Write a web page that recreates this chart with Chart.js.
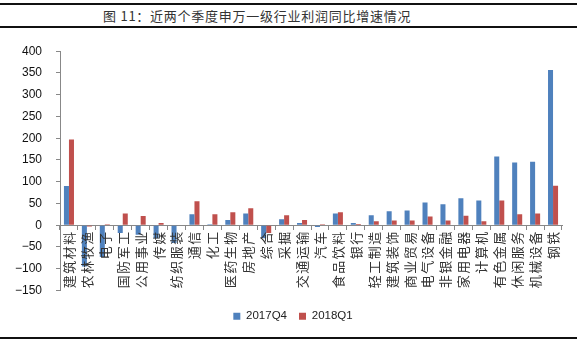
<!DOCTYPE html>
<html>
<head>
<meta charset="utf-8">
<script src="https://cdn.jsdelivr.net/npm/chart.js@4/dist/chart.umd.min.js"></script>
<style>
  html, body { margin: 0; padding: 0; background: #fff; }
  #page { position: relative; width: 577px; height: 343px; overflow: hidden; }
  #title {
    position: absolute; left: 0; top: 3px; width: 577px; height: 21px;
    border-top: 2px solid #111; border-bottom: 2px solid #111;
    font: 13px "Noto Sans CJK SC", sans-serif; letter-spacing: 0.75px;
    color: #333; line-height: 21px; white-space: nowrap;
  }
  #title span { position: absolute; left: 103px; }
  #wrap { position: absolute; left: 0; top: 30px; width: 577px; height: 305px; }
  #rule { position: absolute; left: 0; top: 337px; width: 577px; height: 0; border-top: 2px solid #111; }
</style>
</head>
<body>
<div id="page">
  <div id="title"><span>图 11：近两个季度申万一级行业利润同比增速情况</span></div>
  <div id="wrap"><canvas id="profitChart" width="577" height="305"></canvas></div>
  <div id="rule"></div>
</div>
<script>
const ctx = document.getElementById('profitChart').getContext('2d');

// 申万一级行业
const industries = ['建筑材料', '农林牧渔', '电子', '国防军工', '公用事业', '传媒', '纺织服装',
  '通信', '化工', '医药生物', '房地产', '综合', '采掘', '交通运输', '汽车', '食品饮料', '银行',
  '轻工制造', '建筑装饰', '商业贸易', '电气设备', '非银金融', '家用电器', '计算机', '有色金属',
  '休闲服务', '机械设备', '钢铁'];

// 利润同比增速 (%)
const growth2017Q4 = [90, -95, -73, -18, -22, -30, -41, 25, 2, 12, 27, -30, 14, 5, -4, 27, 5,
  23, 32, 34, 52, 48, 62, 57, 158, 144, 146, 357];
const growth2018Q1 = [197, -3, 2, 27, 21, 5, 0, 55, 25, 30, 39, -18, 23, 12, 2, 30, 3,
  9, 11, 11, 20, 11, 22, 9, 57, 25, 27, 91];

const yTicks = [400, 350, 300, 250, 200, 150, 100, 50, 0, -50, -100, -150];

const seriesNames = ['2017Q4', '2018Q1'];
const seriesColors = ['#4F81BD', '#C0504D'];

// category labels are drawn after the bars (ticks.z = 1); space their characters out
const labelSpacing = {
  id: 'labelSpacing',
  afterDatasetsDraw(chart) { chart.ctx.letterSpacing = '1.5px'; },
  afterDraw(chart) { chart.ctx.letterSpacing = '0px'; },
  // nudge the legend a little to the right
  afterLayout(chart) { chart.legend.left += 12; chart.legend.right += 12; }
};

new Chart(ctx, {
  type: 'bar',
  data: {
    labels: industries,
    datasets: [
      { label: seriesNames[0], data: growth2017Q4, backgroundColor: seriesColors[0] },
      { label: seriesNames[1], data: growth2018Q1, backgroundColor: seriesColors[1] }
    ]
  },
  plugins: [labelSpacing],
  options: {
    responsive: false,
    animation: false,
    layout: { padding: { left: 0, right: 15, top: 17, bottom: 3 } },
    datasets: { bar: { categoryPercentage: 0.56, barPercentage: 1.0 } },
    plugins: {
      title: { display: false },
      tooltip: { enabled: false },
      legend: {
        position: 'bottom',
        labels: {
          boxWidth: 7, boxHeight: 7, padding: 12, color: '#222',
          font: { family: '"Liberation Sans", Arial, sans-serif', size: 11.5 }
        }
      }
    },
    scales: {
      x: {
        position: { y: 0 },
        grid: { offset: true, drawOnChartArea: false, drawTicks: true, tickLength: 4, color: '#888' },
        border: { display: true, color: '#888', width: 1 },
        ticks: {
          autoSkip: false, minRotation: 90, maxRotation: 90, padding: 1, z: 1,
          color: '#333',
          font: { family: '"Noto Sans CJK SC", sans-serif', size: 13 }
        }
      },
      xBottom: {
        type: 'category', position: 'bottom', labels: industries,
        grid: { display: false }, border: { display: false },
        ticks: { display: false },
        afterFit: (scale) => { scale.height = 8; }
      },
      y: {
        min: -150, max: 400,
        afterFit: (scale) => { scale.width = 60; },
        afterBuildTicks: (scale) => { scale.ticks = yTicks.map(v => ({ value: v })); },
        grid: { drawOnChartArea: false, drawTicks: true, tickLength: 4, color: '#888' },
        border: { display: true, color: '#888', width: 1 },
        ticks: {
          padding: 14, color: '#111',
          font: { family: '"Liberation Sans", Arial, sans-serif', size: 12 },
          callback: (v) => String(v).replace('-', '\u2212')
        }
      }
    }
  }
});
</script>
</body>
</html>
